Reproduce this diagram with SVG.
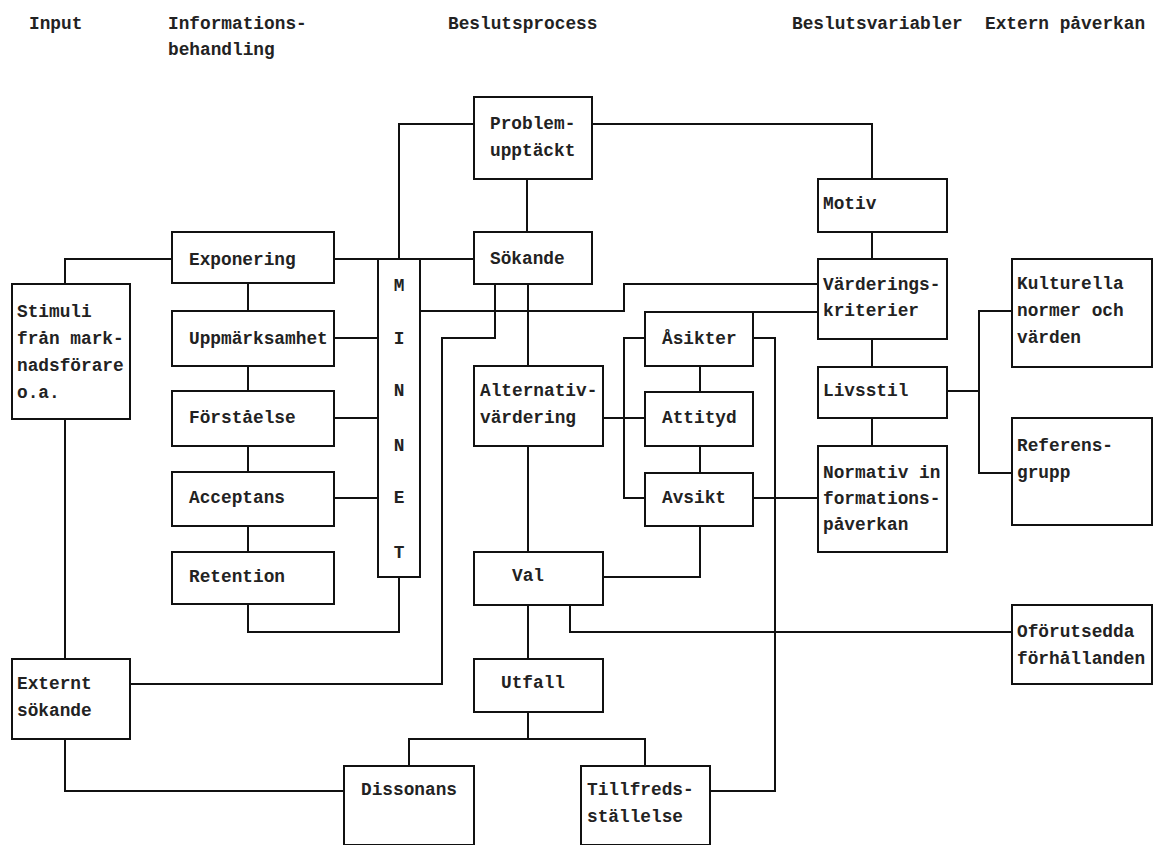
<svg xmlns="http://www.w3.org/2000/svg" width="1157" height="845" viewBox="0 0 1157 845">
<style>
.b{fill:#fff;stroke:#111;stroke-width:2}
.c{fill:none;stroke:#111;stroke-width:2}
text{font-family:"Liberation Mono","DejaVu Sans Mono",monospace;font-size:17.8px;font-weight:bold;fill:#222}
</style>
<rect width="1157" height="845" fill="#fff"/>
<g id="headers">
<text x="29" y="29">Input</text>
<text x="168" y="29">Informations-</text>
<text x="168" y="55">behandling</text>
<text x="448" y="29">Beslutsprocess</text>
<text x="792" y="29">Beslutsvariabler</text>
<text x="985" y="29">Extern påverkan</text>
</g>
<g id="connectors">
<polyline class="c" points="172,259 65,259 65,284"/>
<line class="c" x1="334" y1="259" x2="474" y2="259"/>
<polyline class="c" points="474,124 399,124 399,259"/>
<polyline class="c" points="592,124 872,124 872,179"/>
<line class="c" x1="527" y1="179" x2="527" y2="232"/>
<line class="c" x1="248" y1="283" x2="248" y2="311"/>
<line class="c" x1="248" y1="366" x2="248" y2="391"/>
<line class="c" x1="248" y1="446" x2="248" y2="472"/>
<line class="c" x1="248" y1="526" x2="248" y2="552"/>
<polyline class="c" points="248,604 248,632 399,632 399,577"/>
<line class="c" x1="334" y1="338" x2="378" y2="338"/>
<line class="c" x1="334" y1="418" x2="378" y2="418"/>
<line class="c" x1="334" y1="498" x2="378" y2="498"/>
<polyline class="c" points="420,311 624,311 624,284 818,284"/>
<polyline class="c" points="495,284 495,338 442,338 442,684 130,684"/>
<line class="c" x1="528" y1="284" x2="528" y2="366"/>
<line class="c" x1="818" y1="312" x2="753" y2="312"/>
<line class="c" x1="872" y1="232" x2="872" y2="259"/>
<line class="c" x1="872" y1="339" x2="872" y2="367"/>
<line class="c" x1="872" y1="418" x2="872" y2="446"/>
<line class="c" x1="947" y1="391" x2="979" y2="391"/>
<polyline class="c" points="1012,311 979,311 979,473 1012,473"/>
<line class="c" x1="603" y1="418" x2="645" y2="418"/>
<polyline class="c" points="645,338 624,338 624,498 645,498"/>
<line class="c" x1="700" y1="366" x2="700" y2="392"/>
<line class="c" x1="700" y1="446" x2="700" y2="473"/>
<polyline class="c" points="700,526 700,577 603,577"/>
<polyline class="c" points="753,338 775,338 775,791 710,791"/>
<line class="c" x1="753" y1="498" x2="818" y2="498"/>
<line class="c" x1="528" y1="446" x2="528" y2="552"/>
<line class="c" x1="528" y1="605" x2="528" y2="659"/>
<polyline class="c" points="570,605 570,632 1012,632"/>
<line class="c" x1="528" y1="712" x2="528" y2="739"/>
<polyline class="c" points="409,766 409,739 645,739 645,766"/>
<line class="c" x1="65" y1="419" x2="65" y2="659"/>
<polyline class="c" points="65,739 65,791 344,791"/>
</g>
<g id="stimuli"><rect class="b" x="12" y="284" width="118" height="135"/><text x="17" y="317">Stimuli</text><text x="17" y="344">från mark-</text><text x="17" y="371">nadsförare</text><text x="17" y="398">o.a.</text></g>
<g id="exponering"><rect class="b" x="172" y="232" width="162" height="51"/><text x="189" y="265">Exponering</text></g>
<g id="uppmarksamhet"><rect class="b" x="172" y="311" width="162" height="55"/><text x="189" y="344">Uppmärksamhet</text></g>
<g id="forstaelse"><rect class="b" x="172" y="391" width="162" height="55"/><text x="189" y="423">Förståelse</text></g>
<g id="acceptans"><rect class="b" x="172" y="472" width="162" height="54"/><text x="189" y="503">Acceptans</text></g>
<g id="retention"><rect class="b" x="172" y="552" width="162" height="52"/><text x="189" y="582">Retention</text></g>
<g id="minnet"><rect class="b" x="378" y="259" width="42" height="318"/>
<g text-anchor="middle"><text x="399" y="291">M</text><text x="399" y="344">I</text><text x="399" y="396">N</text><text x="399" y="451">N</text><text x="399" y="503">E</text><text x="399" y="558">T</text></g></g>
<g id="problem"><rect class="b" x="474" y="97" width="118" height="82"/><text x="490" y="129">Problem-</text><text x="490" y="156">upptäckt</text></g>
<g id="sokande"><rect class="b" x="474" y="232" width="118" height="52"/><text x="490" y="264">Sökande</text></g>
<g id="alternativ"><rect class="b" x="474" y="366" width="129" height="80"/><text x="480" y="396">Alternativ-</text><text x="480" y="423">värdering</text></g>
<g id="val"><rect class="b" x="474" y="552" width="129" height="53"/><text x="512" y="581">Val</text></g>
<g id="utfall"><rect class="b" x="474" y="659" width="129" height="53"/><text x="501" y="688">Utfall</text></g>
<g id="asikter"><rect class="b" x="645" y="312" width="108" height="54"/><text x="662" y="344">Åsikter</text></g>
<g id="attityd"><rect class="b" x="645" y="392" width="108" height="54"/><text x="662" y="423">Attityd</text></g>
<g id="avsikt"><rect class="b" x="645" y="473" width="108" height="53"/><text x="662" y="503">Avsikt</text></g>
<g id="motiv"><rect class="b" x="818" y="179" width="129" height="53"/><text x="823" y="209">Motiv</text></g>
<g id="varderingskriterier"><rect class="b" x="818" y="259" width="129" height="80"/><text x="823" y="290">Värderings-</text><text x="823" y="316">kriterier</text></g>
<g id="livsstil"><rect class="b" x="818" y="367" width="129" height="51"/><text x="823" y="396">Livsstil</text></g>
<g id="normativ"><rect class="b" x="818" y="446" width="129" height="106"/><text x="823" y="478">Normativ in</text><text x="823" y="504">formations-</text><text x="823" y="530">påverkan</text></g>
<g id="kulturella"><rect class="b" x="1012" y="259" width="140" height="108"/><text x="1017" y="289">Kulturella</text><text x="1017" y="316">normer och</text><text x="1017" y="343">värden</text></g>
<g id="referensgrupp"><rect class="b" x="1012" y="418" width="140" height="107"/><text x="1017" y="451">Referens-</text><text x="1017" y="478">grupp</text></g>
<g id="oforutsedda"><rect class="b" x="1012" y="605" width="140" height="79"/><text x="1017" y="637">Oförutsedda</text><text x="1017" y="664">förhållanden</text></g>
<g id="externt"><rect class="b" x="12" y="659" width="118" height="80"/><text x="17" y="689">Externt</text><text x="17" y="716">sökande</text></g>
<g id="dissonans"><rect class="b" x="344" y="766" width="130" height="79"/><text x="361" y="795">Dissonans</text></g>
<g id="tillfredsstallelse"><rect class="b" x="581" y="766" width="129" height="79"/><text x="587" y="795">Tillfreds-</text><text x="587" y="822">ställelse</text></g>
</svg>
